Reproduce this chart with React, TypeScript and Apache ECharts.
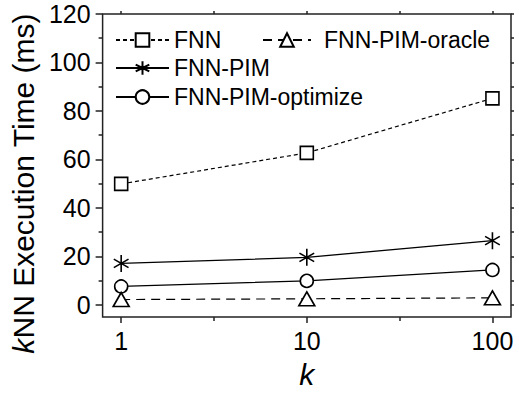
import React, { useEffect, useRef } from "react";
import * as echarts from "echarts";

// x values are log10(k)
const kLog = [0, 1, 2];
const fnn = [49.9, 62.7, 85.2];
const fnnPim = [17.1, 19.6, 26.5];
const fnnPimOpt = [7.6, 9.9, 14.4];
const fnnPimOracle = [2.2, 2.5, 2.9];
const xMajor = [0, 1, 2];
const xMinor = [0.5, 1.5];
const yMajor = [0, 20, 40, 60, 80, 100, 120];
const yMinor = [10, 30, 50, 70, 90, 110];
const yAll = [0, 10, 20, 30, 40, 50, 60, 70, 80, 90, 100, 110, 120];

const FONT = "'Liberation Sans', Arial, Helvetica, sans-serif";
const STAR =
  "path://M0,0L0,-10M0,0L8.66,-5M0,0L8.66,5M0,0L0,10M0,0L-8.66,5M0,0L-8.66,-5";

const pts = (ys: number[]) => ys.map((y, i) => [kLog[i], y]);

export default function App() {
  const ref = useRef<HTMLDivElement>(null);
  useEffect(() => {
    const chart = echarts.init(ref.current!, null, { renderer: "svg" });
    const axisColor = "#222";
    const tickStyle = { color: axisColor, width: 1.5 };
    const legendBase = {
      orient: "vertical" as const,
      padding: 0,
      itemHeight: 17,
      textStyle: { fontSize: 23, fontFamily: FONT, color: "#000", lineHeight: 24 },
    };
    const option: any = {
      animation: false,
      backgroundColor: "#fff",
      grid: {
        left: 100,
        right: 8,
        top: 14,
        bottom: 79,
        show: true,
        borderColor: axisColor,
        borderWidth: 1.5,
        backgroundColor: "transparent",
      },
      legend: [
        { ...legendBase, left: 115, top: 28, itemWidth: 53, data: ["FNN"] },
        { ...legendBase, left: 115, top: 56, itemWidth: 53, data: ["FNN-PIM"] },
        { ...legendBase, left: 115, top: 85, itemWidth: 53, data: ["FNN-PIM-optimize"] },
        {
          ...legendBase,
          left: 262,
          top: 28,
          itemWidth: 48,
          data: ["FNN-PIM-oracle"],
          textStyle: { ...legendBase.textStyle, padding: [0, 0, 0, 8] },
        },
      ],
      xAxis: [
        {
          type: "value",
          position: "bottom",
          min: -0.1,
          max: 2.1,
          axisLine: { show: false, onZero: false },
          splitLine: { show: false },
          axisTick: { show: true, customValues: xMajor, length: 6, lineStyle: tickStyle },
          axisLabel: {
            customValues: xMajor,
            formatter: (v: number) => String(Math.round(Math.pow(10, v))),
            fontSize: 25,
            fontFamily: FONT,
            color: "#000",
            margin: 11,
          },
          name: "{i|k}",
          nameLocation: "middle",
          nameGap: 42,
          nameTextStyle: {
            rich: { i: { fontStyle: "italic", fontSize: 30, fontFamily: FONT, color: "#000" } },
          },
        },
        {
          type: "value",
          position: "bottom",
          min: -0.1,
          max: 2.1,
          axisLine: { show: false, onZero: false },
          splitLine: { show: false },
          axisTick: { show: true, customValues: xMinor, length: 4, lineStyle: tickStyle },
          axisLabel: { show: false },
        },
        {
          type: "value",
          position: "top",
          min: -0.1,
          max: 2.1,
          axisLine: { show: false, onZero: false },
          splitLine: { show: false },
          axisTick: { show: true, customValues: [...xMajor, ...xMinor], length: 3, lineStyle: tickStyle },
          axisLabel: { show: false },
        },
      ],
      yAxis: [
        {
          type: "value",
          position: "left",
          min: -5,
          max: 120,
          axisLine: { show: false, onZero: false },
          splitLine: { show: false },
          axisTick: { show: true, customValues: yMajor, length: 7, lineStyle: tickStyle },
          axisLabel: {
            customValues: yMajor,
            fontSize: 25,
            fontFamily: FONT,
            color: "#000",
            margin: 12,
          },
          name: "{i|k}{n|NN Execution Time (ms)}",
          nameLocation: "middle",
          nameGap: 64,
          nameTextStyle: {
            padding: [0, 36, 0, 0],
            rich: {
              i: { fontStyle: "italic", fontSize: 30, fontFamily: FONT, color: "#000" },
              n: { fontSize: 30, fontFamily: FONT, color: "#000" },
            },
          },
        },
        {
          type: "value",
          position: "left",
          min: -5,
          max: 120,
          axisLine: { show: false, onZero: false },
          splitLine: { show: false },
          axisTick: { show: true, customValues: yMinor, length: 4, lineStyle: tickStyle },
          axisLabel: { show: false },
        },
        {
          type: "value",
          position: "right",
          min: -5,
          max: 120,
          axisLine: { show: false, onZero: false },
          splitLine: { show: false },
          axisTick: { show: true, customValues: yAll, length: 3, lineStyle: tickStyle },
          axisLabel: { show: false },
        },
      ],
      series: [
        {
          name: "FNN",
          type: "line",
          data: pts(fnn),
          symbol: "rect",
          symbolSize: 13,
          lineStyle: { color: "#000", width: 1.2, type: [4, 3] },
          itemStyle: { color: "#fff", borderColor: "#000", borderWidth: 1.6 },
        },
        {
          name: "FNN-PIM",
          type: "line",
          data: pts(fnnPim),
          symbol: STAR,
          symbolSize: 17,
          symbolKeepAspect: true,
          lineStyle: { color: "#000", width: 1.3 },
          itemStyle: { color: "#000", borderColor: "#000", borderWidth: 1.6 },
        },
        {
          name: "FNN-PIM-optimize",
          type: "line",
          data: pts(fnnPimOpt),
          symbol: "circle",
          symbolSize: 13,
          lineStyle: { color: "#000", width: 1.3 },
          itemStyle: { color: "#fff", borderColor: "#000", borderWidth: 1.6 },
        },
        {
          name: "FNN-PIM-oracle",
          type: "line",
          data: pts(fnnPimOracle),
          symbol: "triangle",
          symbolSize: [16, 14],
          lineStyle: { color: "#000", width: 1.2, type: [9, 6] },
          itemStyle: { color: "#fff", borderColor: "#000", borderWidth: 1.6 },
        },
      ],
    };
    chart.setOption(option);
    return () => chart.dispose();
  }, []);
  return (
    <div
      ref={ref}
      style={{ position: "fixed", left: 0, top: 0, width: 519, height: 396, background: "#fff" }}
    />
  );
}
